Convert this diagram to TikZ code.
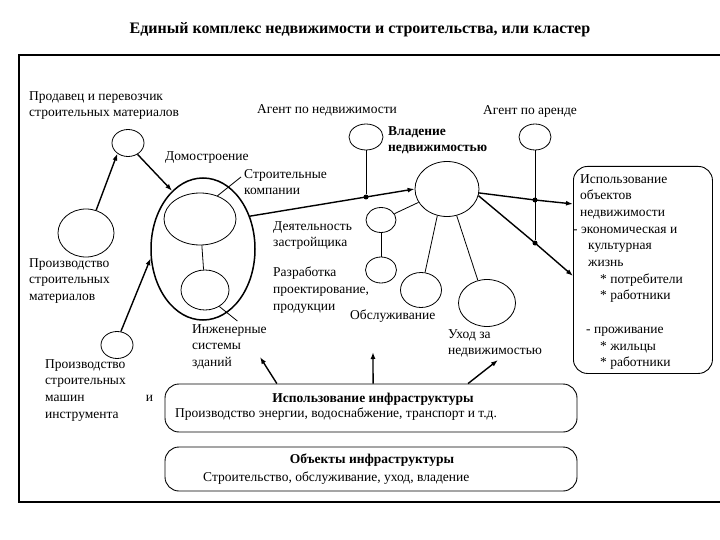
\documentclass[tikz,border=0pt]{standalone}
\usepackage{fontspec}
\setmainfont{Liberation Serif}
\usepackage{tikz}
\usetikzlibrary{arrows.meta,shapes.geometric,calc}
\tikzset{
  ar/.style={-{Latex[length=7pt,width=5pt]},line width=1.4pt},
  ln/.style={line width=0.8pt},
  el/.style={ellipse,draw,line width=0.8pt,inner sep=0pt},
  box/.style={draw,line width=0.9pt,rounded corners=14pt},
  lbl/.style={align=left,inner sep=0pt,anchor=north west,font=\fontsize{13.5}{16.7}\selectfont},
  bl/.style={lbl,font=\fontsize{13.5}{16.7}\selectfont\bfseries},
  dt/.style={circle,fill,inner sep=0pt,minimum size=5pt}
}

\begin{document}
\begin{tikzpicture}[x=1pt,y=-1pt]
\useasboundingbox (0,0) rectangle (720,540);
\node[font=\fontsize{16}{18}\selectfont\bfseries] (ttl) at (360,30) {Единый комплекс недвижимости и строительства, или кластер};
\draw[line width=1.1pt] (722,55) -- (19,55) -- (19,502) -- (722,502);

\node[el,minimum width=32pt,minimum height=27pt] (sup) at (128,143) {};
\node[el,minimum width=56pt,minimum height=48pt] (mat) at (86,233) {};
\node[el,minimum width=32pt,minimum height=27pt] (mach) at (117,345) {};
\node[el,line width=1.5pt,minimum width=104pt,minimum height=142pt] (dom) at (203,249) {};
\node[el,minimum width=72pt,minimum height=52pt] (comp) at (200,219) {};
\node[el,minimum width=48pt,minimum height=40pt] (eng) at (205,290) {};
\node[el,minimum width=34pt,minimum height=26pt] (agn) at (366,137) {};
\node[el,minimum width=32pt,minimum height=26pt] (agr) at (535,137) {};
\node[el,minimum width=64pt,minimum height=55pt] (own) at (447,189) {};
\node[el,minimum width=30pt,minimum height=25pt] (dev) at (381,220) {};
\node[el,minimum width=31pt,minimum height=26pt] (des) at (381,270) {};
\node[el,minimum width=41pt,minimum height=35pt] (serv) at (421,290) {};
\node[el,minimum width=57pt,minimum height=47pt] (care) at (487,303) {};

\node[box,minimum width=139pt,minimum height=207pt,anchor=north west] (use) at (573,166) {};
\node[box,minimum width=412pt,minimum height=48pt] (infu) at (371,408) {};
\node[box,minimum width=412pt,minimum height=44pt] (info) at (371,469) {};

\node[lbl] (tsup) at (29,91) {Продавец и перевозчик\\строительных материалов};
\node[lbl] (tagn) at (257,104) {Агент по недвижимости};
\node[lbl] (tagr) at (483,105) {Агент по аренде};
\node[bl] (town) at (388,126) {Владение\\недвижимостью};
\node[lbl] (tdom) at (165,151) {Домостроение};
\node[lbl] (tcomp) at (244,169) {Строительные\\компании};
\node[lbl] (tdev) at (273,221) {Деятельность\\застройщика};
\node[lbl] (tdes) at (273,267) {Разработка\\проектирование,\\продукции};
\node[lbl] (tserv) at (350,310) {Обслуживание};
\node[lbl] (tcare) at (448,329) {Уход за\\недвижимостью};
\node[lbl] (teng) at (192,324) {Инженерные\\системы\\зданий};
\node[lbl] (tmat) at (29,258) {Производство\\строительных\\материалов};
\node[lbl,text width=108pt] (tmach) at (45,359) {Производство\\строительных\\машин\hfill и\\инструмента};
\node[lbl] (tuse) at (573,174) {\hspace*{7pt}Использование\\
\hspace*{7pt}объектов\\
\hspace*{7pt}недвижимости\\
- экономическая и\\
\hspace*{15pt}культурная\\
\hspace*{15pt}жизнь\\
\hspace*{27pt}* потребители\\
\hspace*{27pt}* работники\\[16.7pt]
\hspace*{13pt}- проживание\\
\hspace*{27pt}* жильцы\\
\hspace*{27pt}* работники};
\node[bl,anchor=center] (tinfu) at (373,399) {Использование инфраструктуры};
\node[lbl,anchor=west] (tinfu2) at (175,414) {Производство энергии, водоснабжение, транспорт и т.д.};
\node[bl,anchor=center] (tinfo) at (372,460) {Объекты инфраструктуры};
\node[lbl,anchor=west] (tinfo2) at (203,478) {Строительство, обслуживание, уход, владение};

\node[dt] (d1) at (366,197) {};
\node[dt] (d2) at (535,200) {};
\node[dt] (d3) at (535,243) {};
\coordinate (tA) at (260,357);
\coordinate (tB) at (373,352);
\coordinate (tC) at (498,360);

\draw[ar] (mat.66) -- (sup.-135);
\draw[ar] (sup.-50) -- (dom.118);
\draw[ar] (mach.74) -- (dom.190);
\draw[ar] (dom.35) -- (d1.center) -- (own.west);
\draw[ln] (agn) -- (d1);
\draw[ln] (agr) -- (d3);
\draw[ar] (own.-7) -- (d2.center) -- ([yshift=66pt]use.west);
\draw[ar] (own.-12) -- (d3.center) -- ([yshift=-6pt]use.west);
\draw[ln] (dev) -- (own);
\draw[ln] (dev) -- (des);
\draw[ln] (own.-110) -- (serv.77);
\draw[ln] (own.-70) -- (care.112);
\draw[ln] (comp) -- (eng);
\draw[ln] (comp.53) -- ([shift={(-3,8)}]tcomp.north west);
\draw[ln] (eng.-49) -- ([xshift=8pt,yshift=3pt]teng.north);
\draw[ar] ($(infu.north west)!0.272!(infu.north east)$) -- (tA);
\draw[ar] ($(infu.north west)!0.505!(infu.north east)$) -- (tB);
\draw[ar] ($(infu.north west)!0.735!(infu.north east)$) -- (tC);
\end{tikzpicture}
\end{document}
